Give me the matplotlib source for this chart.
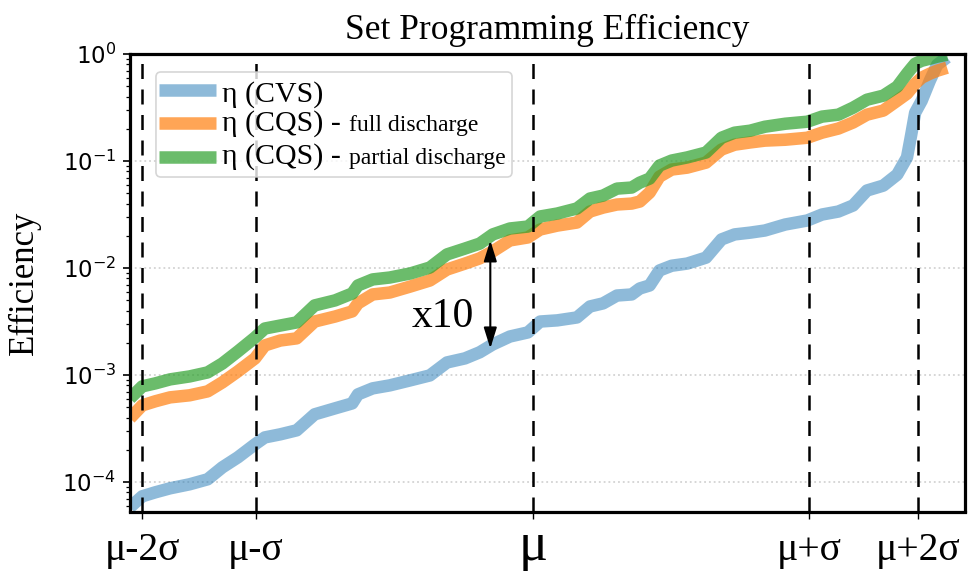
import numpy as np
import matplotlib
matplotlib.use("Agg")
import matplotlib.pyplot as plt
from matplotlib.patches import FancyBboxPatch
from matplotlib.lines import Line2D

plt.rcParams['font.family'] = ['Liberation Serif', 'DejaVu Serif']
plt.rcParams['mathtext.fontset'] = 'dejavusans'

# ---------------- data ----------------
x = [0, 1.5, 3.1, 4.9, 7.3, 9.5, 11.3, 13.2, 15.3, 16.5,
     18.4, 20.4, 22.6, 25.1, 27.2, 27.9, 29.7, 31.8, 34.3, 36.7,
     38.8, 41.0, 42.8, 44.4, 46.5, 48.7, 50.2, 52.3, 54.7, 56.3,
     57.9, 59.6, 61.4, 62.4, 63.6, 64.8, 66.3, 68.2, 70.5, 72.4,
     74.0, 75.9, 77.7, 80.2, 82.9, 84.7, 86.7, 88.5, 90.2, 92.2,
     93.9, 95.1, 95.6, 96.1, 96.9, 97.9, 98.8, 100]

eta_cvs = [5.81e-5, 7.35e-5, 8.01e-5, 8.73e-5, 9.52e-5, 1.06e-4, 1.37e-4, 1.70e-4, 2.25e-4, 2.61e-4,
           2.79e-4, 3.04e-4, 4.29e-4, 4.88e-4, 5.43e-4, 6.59e-4, 7.50e-4, 8.00e-4, 8.91e-4, 9.91e-4,
           1.31e-3, 1.43e-3, 1.63e-3, 1.93e-3, 2.29e-3, 2.50e-3, 3.16e-3, 3.24e-3, 3.45e-3, 4.37e-3,
           4.67e-3, 5.53e-3, 5.66e-3, 6.44e-3, 6.87e-3, 9.48e-3, 1.05e-2, 1.10e-2, 1.25e-2, 1.85e-2,
           2.06e-2, 2.14e-2, 2.24e-2, 2.55e-2, 2.78e-2, 3.16e-2, 3.37e-2, 3.84e-2, 5.30e-2, 5.89e-2,
           7.46e-2, 0.108, 0.173, 0.283, 0.366, 0.564, 0.794, 0.93]

eta_cqs_full = [3.94e-4, 5.20e-4, 5.68e-4, 6.18e-4, 6.46e-4, 7.03e-4, 8.53e-4, 1.08e-3, 1.43e-3, 1.89e-3,
                2.10e-3, 2.20e-3, 3.16e-3, 3.52e-3, 3.93e-3, 4.67e-3, 5.66e-3, 5.90e-3, 6.71e-3, 7.64e-3,
                9.68e-3, 1.10e-2, 1.23e-2, 1.43e-2, 1.81e-2, 1.93e-2, 2.29e-2, 2.49e-2, 2.66e-2, 3.37e-2,
                3.67e-2, 3.92e-2, 4.00e-2, 4.18e-2, 5.07e-2, 7.14e-2, 8.32e-2, 8.67e-2, 9.66e-2, 0.128,
                0.142, 0.149, 0.155, 0.158, 0.165, 0.184, 0.201, 0.229, 0.271, 0.296,
                0.366, 0.426, 0.474, 0.528, 0.601, 0.655, 0.698, 0.745]

eta_cqs_partial = [6.04e-4, 7.83e-4, 8.35e-4, 9.10e-4, 9.70e-4, 1.057e-3, 1.28e-3, 1.66e-3, 2.24e-3, 2.72e-3,
                   2.90e-3, 3.10e-3, 4.47e-3, 4.98e-3, 5.78e-3, 6.87e-3, 7.82e-3, 8.15e-3, 8.89e-3, 1.01e-2,
                   1.34e-2, 1.52e-2, 1.69e-2, 2.06e-2, 2.34e-2, 2.44e-2, 3.03e-2, 3.23e-2, 3.60e-2, 4.46e-2,
                   4.75e-2, 5.52e-2, 5.65e-2, 6.28e-2, 6.85e-2, 9.06e-2, 0.101, 0.108, 0.120, 0.165,
                   0.184, 0.192, 0.209, 0.223, 0.233, 0.260, 0.271, 0.315, 0.374, 0.408,
                   0.495, 0.655, 0.73, 0.811, 0.865, 0.904, 0.944, 0.985]

sigma_ticks = [1.5, 15.4, 49.3, 83.1, 96.5]
sigma_labels = ['μ-2σ', 'μ-σ', 'μ', 'μ+σ', 'μ+2σ']

series_labels = ['η (CVS)', 'η (CQS) -', 'η (CQS) -']
series_sub = ['', 'full discharge', 'partial discharge']
colors = ['tab:blue', 'tab:orange', 'tab:green']
alphas = [0.5, 0.7, 0.7]

arrow_x = 44.1
arrow_top = 1.81e-2
arrow_bottom = 1.77e-3

# ---------------- figure ----------------
fig = plt.figure(figsize=(9.69, 5.71), dpi=100)
ax = fig.add_axes([130 / 969, 59.5 / 571, 835 / 969, 457.5 / 571])

lw = 9
for ys, c, a in zip([eta_cvs, eta_cqs_full, eta_cqs_partial], colors, alphas):
    ax.plot(x, ys, color=c, alpha=a, lw=lw, solid_capstyle='butt', solid_joinstyle='round', zorder=2)

ax.set_yscale('log')
ax.set_ylim(5.3e-5, 1.0)
ax.set_xlim(0, 102.2)

for t in sigma_ticks:
    ax.axvline(t, color='black', lw=1.8, linestyle=(0, (6, 4.2)), zorder=3)

ax.yaxis.grid(True, which='major', linestyle=':', color='lightgray', lw=1.3)
ax.set_axisbelow(True)

ax.set_xticks(sigma_ticks)
ax.set_xticklabels(sigma_labels)
ax.tick_params(axis='x', length=5, width=1.0, pad=30)
for lab in ax.get_xticklabels():
    lab.set_fontsize(39 if lab.get_text() == 'μ' else 28.5)
    lab.set_verticalalignment('baseline')
ax.tick_params(axis='y', which='major', length=5, width=1.2, labelsize=16.5, pad=5)
ax.tick_params(axis='y', which='minor', length=3, width=0.9)
for lab in ax.get_yticklabels():
    lab.set_family('DejaVu Sans')

for s in ax.spines.values():
    s.set_linewidth(2.3)

ax.set_title('Set Programming Efficiency', fontsize=25.5, pad=11)
ax.set_ylabel('Efficiency', fontsize=25)
ax.yaxis.set_label_coords(-0.107, 0.5)

# arrow + annotation
ax.annotate('', xy=(arrow_x, arrow_top), xytext=(arrow_x, arrow_bottom),
            arrowprops=dict(arrowstyle='<|-|>,head_length=0.9,head_width=0.28', color='black',
                            lw=1.5, mutation_scale=14, shrinkA=0, shrinkB=0), zorder=4)
ax.text(38.3, 2.78e-3, 'x10', fontsize=30, ha='center', va='baseline', zorder=4)

# manual legend
asp = 835 / 457.5
box = FancyBboxPatch((0.0311, 0.7311), 0.4264, 0.2296,
                     boxstyle="round,pad=0,rounding_size=0.006", mutation_aspect=asp,
                     transform=ax.transAxes, facecolor='white', edgecolor='#cccccc',
                     lw=1.2, alpha=0.8, zorder=6)
ax.add_patch(box)
row_y = [0.9213, 0.8492, 0.7749]
base_y = [0.8957, 0.8323, 0.7596]
for i in range(3):
    ln = Line2D([0.0347, 0.103], [row_y[i], row_y[i]], transform=ax.transAxes,
                color=colors[i], alpha=alphas[i], lw=lw, solid_capstyle='butt', zorder=7)
    ax.add_line(ln)
    ax.text(0.1102, base_y[i], series_labels[i], transform=ax.transAxes,
            fontsize=21.5, va='baseline', ha='left', zorder=8)
    if series_sub[i]:
        ax.text(0.2623, base_y[i], series_sub[i], transform=ax.transAxes,
                fontsize=17, va='baseline', ha='left', zorder=8)

fig.savefig('out.png', dpi=100)
